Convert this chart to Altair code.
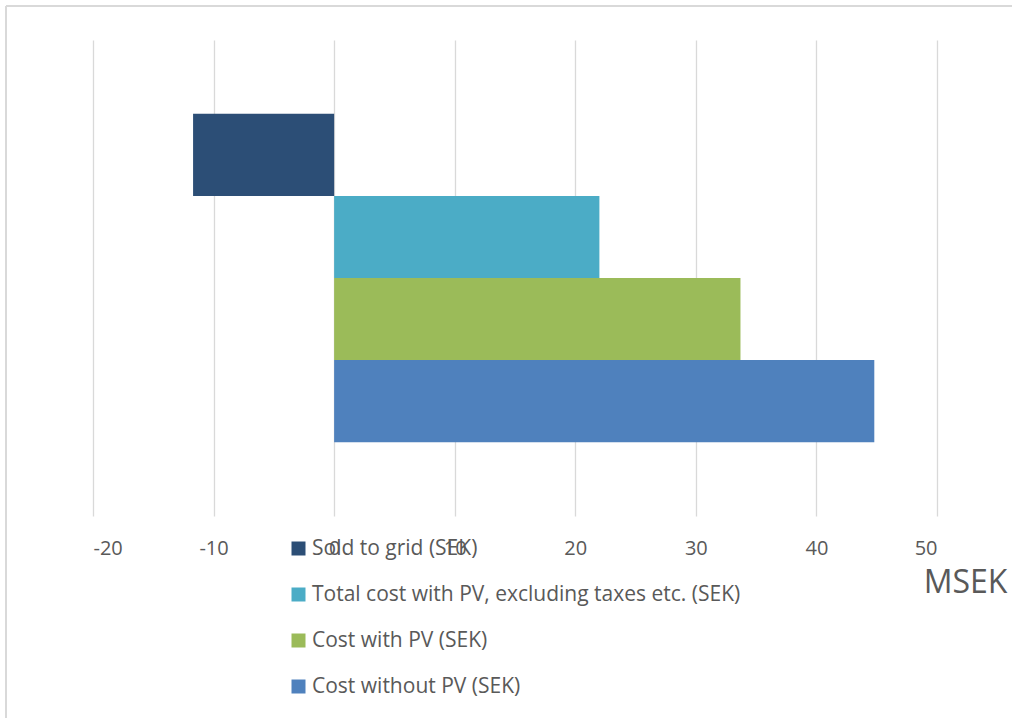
import altair as alt
import pandas as pd

series = [
    "Sold to grid (SEK)",
    "Total cost with PV, excluding taxes etc. (SEK)",
    "Cost with PV (SEK)",
    "Cost without PV (SEK)",
]
values = [-11.7, 22.0, 33.7, 44.8]
colors = ["#2c4e76", "#4bacc6", "#9bbb59", "#4f81bd"]
x_ticks = [-20, -10, 0, 10, 20, 30, 40, 50]

df = pd.DataFrame({"series": series, "value": values})

FONT = "Open Sans"
TXT = "#595959"

bars = alt.Chart(df).mark_bar(opacity=1).encode(
    x=alt.X(
        "value:Q",
        scale=alt.Scale(domain=[-20, 50], nice=False, zero=False),
        axis=alt.Axis(
            values=x_ticks,
            labelExpr="datum.value + ''",
            grid=True,
            gridColor="#d9d9d9",
            gridWidth=1.3,
            domain=False,
            ticks=False,
            labelFont=FONT,
            labelFontSize=20,
            labelColor=TXT,
            labelPadding=22,
            title="MSEK",
            titleFont=FONT,
            titleFontSize=32,
            titleFontWeight="normal",
            titleColor=TXT,
            titleX=872,
            titleY=66,
            titleAlign="center",
            titleBaseline="middle",
        ),
    ),
    y=alt.Y(
        "series:N",
        sort=series,
        axis=None,
        scale=alt.Scale(paddingInner=0, paddingOuter=0.9),
    ),
    color=alt.Color(
        "series:N",
        sort=series,
        scale=alt.Scale(domain=series, range=colors),
        legend=alt.Legend(
            title=None,
            orient="none",
            legendX=195,
            legendY=498,
            direction="vertical",
            symbolType="square",
            symbolSize=196,
            symbolStrokeWidth=0,
            symbolOpacity=1,
            labelFont=FONT,
            labelFontSize=21,
            labelColor=TXT,
            labelOffset=3,
            labelLimit=700,
            rowPadding=24,
        ),
    ),
)

frame = pd.DataFrame({"k": [0]})
top_line = alt.Chart(frame).mark_rule(color="#d9d9d9", strokeWidth=2).encode(
    x=alt.value(-87), x2=alt.value(1012), y=alt.value(-34)
)
left_line = alt.Chart(frame).mark_rule(color="#d9d9d9", strokeWidth=2).encode(
    x=alt.value(-87), y=alt.value(-34), y2=alt.value(700)
)

chart = alt.layer(bars, top_line, left_line).properties(
    width=844,
    height=476,
    autosize=alt.AutoSizeParams(type="none"),
    padding={"left": 93, "top": 40, "right": 75, "bottom": 202},
    background="white",
).configure_view(stroke=None)

chart.save("out.html", embed_options={"renderer": "svg", "actions": False})
